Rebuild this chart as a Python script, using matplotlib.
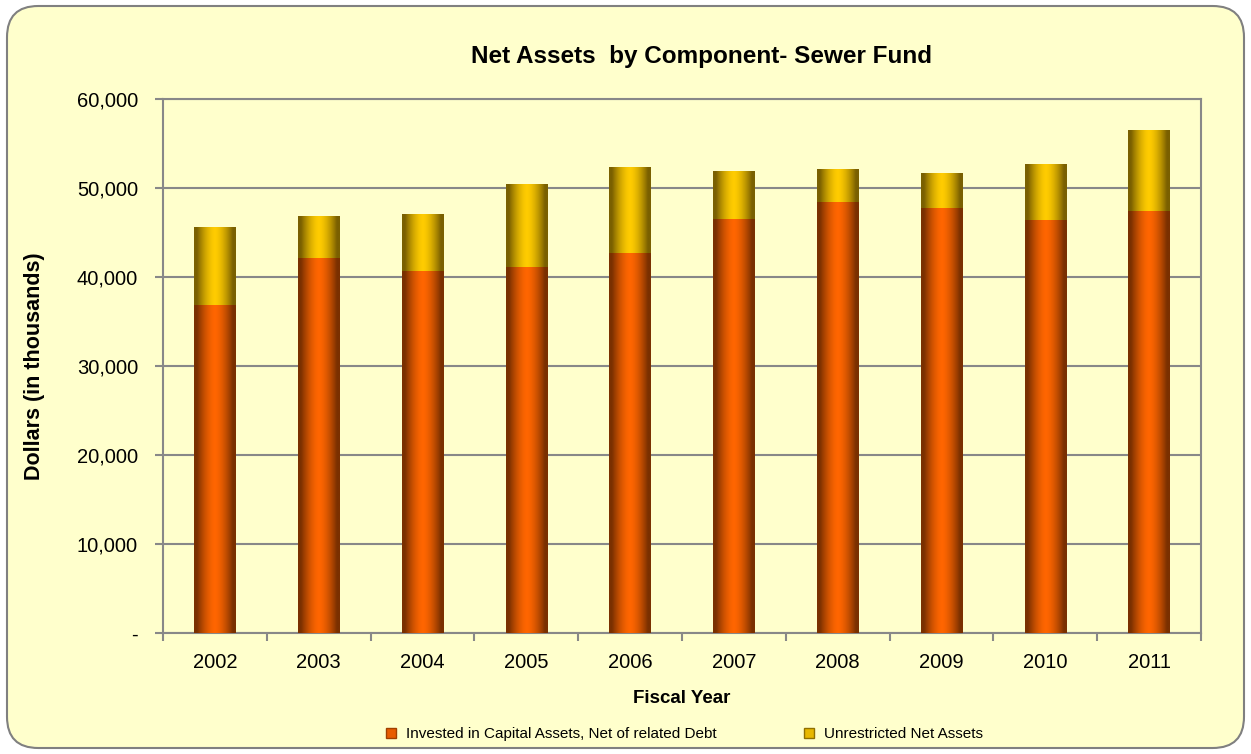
import matplotlib
matplotlib.use("Agg")
import matplotlib.pyplot as plt
import numpy as np
from matplotlib.patches import FancyBboxPatch
from matplotlib.lines import Line2D
from matplotlib.colors import to_rgb

years = ["2002", "2003", "2004", "2005", "2006", "2007", "2008", "2009", "2010", "2011"]
invested = [36900, 42200, 40700, 41200, 42700, 46600, 48500, 47800, 46400, 47500]
unrestricted = [8770, 4700, 6400, 9300, 9700, 5400, 3700, 3900, 6300, 9100]
series_names = ["Invested in Capital Assets, Net of related Debt", "Unrestricted Net Assets"]
yticks = [0, 10000, 20000, 30000, 40000, 50000, 60000]

plt.rcParams['font.family'] = ['Liberation Sans', 'DejaVu Sans']
BG = "#FFFFCC"

fig = plt.figure(figsize=(12.51, 7.54), dpi=100)
fig.patch.set_facecolor("white")
border = FancyBboxPatch((7 / 1251, 6 / 754), 1237 / 1251, 742 / 754,
                        boxstyle="round,pad=0,rounding_size=0.025",
                        transform=fig.transFigure, facecolor=BG, edgecolor="#808080",
                        linewidth=1.5, mutation_aspect=1251 / 754, zorder=-10)
fig.patches.append(border)

ax = fig.add_axes([163 / 1251, 1 - 633.3 / 754, (1201 - 163) / 1251, (633.3 - 99.5) / 754])
ax.set_facecolor(BG)

x = np.arange(len(years))
width = 0.4


def gradient(center, edge, n=64):
    c = np.array(to_rgb(center))
    e = np.array(to_rgb(edge))
    t = np.linspace(-1, 1, n)
    w = np.clip(np.abs(t) * 1.15, 0, 1) ** 1.6
    arr = (1 - w)[:, None] * c + w[:, None] * e
    return arr[None, :, :]


grad_inv = gradient("#FF6600", "#7A3000")
grad_unr = gradient("#FFCC00", "#7A6000")

bars1 = ax.bar(x, invested, width=width, color="none", zorder=3)
bars2 = ax.bar(x, unrestricted, width=width, bottom=invested, color="none", zorder=3)

for bars, g in ((bars1, grad_inv), (bars2, grad_unr)):
    for p in bars:
        x0, y0, w, h = p.get_x(), p.get_y(), p.get_width(), p.get_height()
        im = ax.imshow(g, extent=[x0, x0 + w, y0, y0 + h], aspect="auto",
                       interpolation="bilinear", zorder=3)
        im.set_clip_path(p)

ax.set_xlim(-0.5, len(years) - 0.5)
ax.set_ylim(0, 60000)

ax.set_yticks(yticks)
ax.set_yticklabels(["-" if v == 0 else f"{v:,.0f}" for v in yticks], fontsize=14.5)
ax.yaxis.grid(True, color="#888888", linewidth=1.5, zorder=1)
ax.set_axisbelow(True)

ax.set_xticks(x)
ax.set_xticklabels(years, fontsize=14.5)
ax.set_xticks(np.arange(len(years) + 1) - 0.5, minor=True)
ax.tick_params(axis="x", which="major", length=0, pad=14)
ax.tick_params(axis="x", which="minor", length=6, width=1.5, color="#888888")
ax.tick_params(axis="y", length=6, width=1.5, color="#888888", pad=12)

for s in ax.spines.values():
    s.set_color("#888888")
    s.set_linewidth(1.5)

ax.set_xlabel("Fiscal Year", fontsize=13.5, fontweight="bold", labelpad=13)
ax.set_ylabel("Dollars (in thousands)", fontsize=15.5, fontweight="bold")
ax.yaxis.set_label_coords(-(163 - 45) / (1201 - 163), 0.5)
fig.text(702 / 1251, 1 - 57 / 754, "Net Assets  by Component- Sewer Fund",
         ha="center", va="center", fontsize=17.5, fontweight="bold")

handles = [Line2D([], [], marker="s", linestyle="none", markersize=7, markerfacecolor="#E85C00",
                  markeredgecolor="#A04000"),
           Line2D([], [], marker="s", linestyle="none", markersize=7, markerfacecolor="#E8B800",
                  markeredgecolor="#907000")]
fig.legend(handles, series_names, loc="center", bbox_to_anchor=(684 / 1251, 1 - 734 / 754), ncol=2,
           frameon=False, fontsize=11, handletextpad=0.6, columnspacing=5.6, handlelength=0.8)

fig.savefig("out.png", dpi=100, facecolor=fig.get_facecolor())
